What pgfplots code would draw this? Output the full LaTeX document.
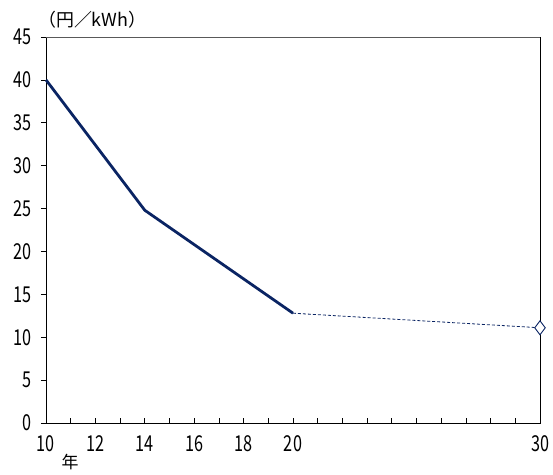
\documentclass[border=0pt]{standalone}
\usepackage{pgfplots}
\pgfplotsset{compat=1.18}
\usepackage{fontspec}
\setmainfont{Noto Sans CJK JP}[FakeStretch=0.74]
\newfontfamily\jp{Noto Sans CJK JP}
\definecolor{navy}{HTML}{0A2463}

\begin{document}
\begin{tikzpicture}
\begin{axis}[
  scale only axis,
  width=494bp, height=386bp,
  xmin=10, xmax=30, ymin=0, ymax=45,
  clip=false,
  axis line style={black, line width=0.9pt},
  ytick={0,5,...,45},
  xtick={10,...,30},
  xticklabels={10,,12,,14,,16,,18,,20,,,,,,,,,,30},
  xtick pos=bottom, ytick pos=left,
  tick align=inside,
  major tick length=5bp,
  tick style={black, line width=0.7pt},
  ytick style={xshift=-5bp},
  tick label style={font=\fontsize{22}{22}\selectfont},
  /pgf/number format/assume math mode=true,
  yticklabel style={xshift=-11bp},
  xticklabel style={yshift=-9bp},
]
% grey top edge of the plot area
\draw[gray!70!black, line width=0.9pt] (rel axis cs:0,1) -- (rel axis cs:1,1);
\addplot[navy, line width=2.8pt, line join=round] coordinates {
  (10,40.0) (14,24.8) (20,12.8)
};
\addplot[navy, line width=0.8pt, densely dashed] coordinates {
  (20,12.8) (30,11.1)
};
\addplot[navy, line width=0.9pt, only marks, mark=diamond*, mark size=7bp,
  mark options={fill=white}] coordinates {(30,11.1)};
\node[anchor=south west, font=\jp\fontsize{18}{18}\selectfont, inner sep=0pt]
  at ([xshift=-8bp, yshift=9bp]rel axis cs:0,1) {（円／kWh）};
\node[anchor=north, font=\jp\fontsize{17}{17}\selectfont, inner sep=0pt]
  at ([xshift=24bp, yshift=-31bp]rel axis cs:0,0) {年};
% margins around the plot
\path ([xshift=-46bp, yshift=-52bp]rel axis cs:0,0)
      ([xshift=13bp, yshift=37bp]rel axis cs:1,1);
\end{axis}
\end{tikzpicture}
\end{document}
